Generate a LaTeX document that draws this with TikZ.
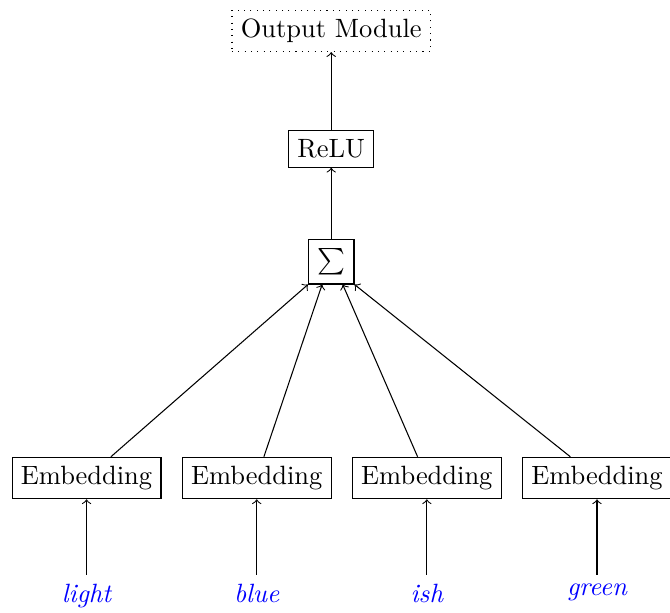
\documentclass[tikz,border=0pt]{standalone}
\usepackage{tikz}
\usetikzlibrary{positioning}

\tikzset{
  block/.style = {draw, rectangle},
  word/.style = {text = blue, font = \itshape}
}

\begin{document}
\begin{tikzpicture}
\useasboundingbox (-4.40,-4.66) rectangle (4.50,3.48);

  % top of the network
\node[block] (sum) at (0,0) {$\sum$};
\node[block] (relu) at (0,1.50) {ReLU};
\node[draw, dotted] (out) at (0,3.07) {Output Module};

\draw[->] (sum) -- (relu);
\draw[->] (relu) -- (out);

  % embeddings and input words
\node[block] (emb1) at (-3.25,-2.87) {Embedding};
\node[block] (emb2) at (-0.99,-2.87) {Embedding};
\node[block] (emb3) at (1.27,-2.87) {Embedding};
\node[block] (emb4) at (3.53,-2.87) {Embedding};

\node[word, below = of emb1] (light) {light};
\node[word, below = of emb2] (blue) {blue};
\node[word, below = of emb3] (ish) {ish};
\node[word, below = of emb4] (green) {green};

\foreach \w/\e in {light/emb1, blue/emb2, ish/emb3, green/emb4}
    \draw[->] (\w) -- (\e);

\draw[->] (emb1) -- (sum.south west);
\draw[->] (emb2) -- (sum.-112);
\draw[->] (emb3) -- (sum.-63);
\draw[->] (emb4) -- (sum.south east);

\end{tikzpicture}
\end{document}
